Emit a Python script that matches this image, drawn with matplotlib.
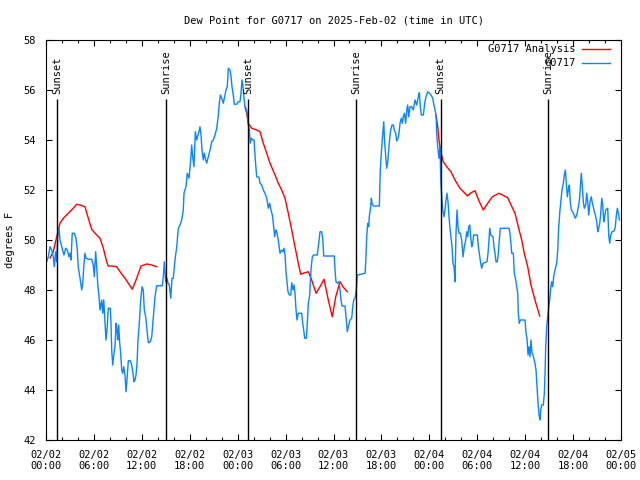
import matplotlib
matplotlib.use("Agg")
import matplotlib.pyplot as plt
import matplotlib.dates as mdates
import numpy as np
import pandas as pd

START = pd.Timestamp("2025-02-02 00:00")

# G0717 observations (hours after 02/02 00:00 UTC, dew point in F)
obs_hours = [
    0.08, 0.29, 0.50, 0.71, 0.91, 1.04, 1.21, 1.34, 1.47, 1.63,
    1.75, 1.97, 2.25, 2.47, 2.67, 2.88, 3.01, 3.13, 3.29, 3.54,
    3.76, 3.92, 4.04, 4.26, 4.47, 4.60, 4.76, 4.88, 5.01, 5.30,
    5.72, 5.92, 6.05, 6.22, 6.35, 6.47, 6.64, 6.76, 6.97, 7.10,
    7.23, 7.39, 7.51, 7.64, 7.80, 8.05, 8.14, 8.23, 8.35, 8.52,
    8.64, 8.77, 8.89, 8.98, 9.10, 9.23, 9.35, 9.48, 9.60, 9.73,
    9.89, 10.02, 10.14, 10.31, 10.56, 10.73, 10.86, 11.02, 11.14, 11.27,
    11.40, 11.52, 11.68, 11.86, 12.02, 12.18, 12.31, 12.48, 12.65, 12.81,
    13.06, 13.24, 13.44, 13.65, 13.86, 14.28, 14.56, 14.69, 14.81, 14.99,
    15.15, 15.28, 15.44, 15.62, 15.78, 15.94, 16.15, 16.37, 16.57, 16.78,
    16.99, 17.19, 17.28, 17.53, 17.69, 17.91, 18.12, 18.24, 18.37, 18.53,
    18.70, 18.87, 19.03, 19.16, 19.28, 19.41, 19.53, 19.70, 19.82, 20.00,
    20.12, 20.32, 20.54, 20.75, 20.95, 21.16, 21.38, 21.58, 21.70, 21.83,
    22.00, 22.20, 22.33, 22.54, 22.70, 22.83, 23.04, 23.17, 23.29, 23.45,
    23.58, 23.88, 24.08, 24.29, 24.42, 24.54, 24.67, 24.79, 24.92, 25.04,
    25.17, 25.30, 25.46, 25.58, 25.71, 25.88, 26.05, 26.21, 26.38, 26.67,
    26.80, 27.01, 27.21, 27.42, 27.64, 27.84, 28.01, 28.17, 28.34, 28.51,
    28.64, 28.76, 28.89, 29.01, 29.14, 29.30, 29.51, 29.68, 29.80, 29.93,
    30.05, 30.18, 30.30, 30.47, 30.64, 30.77, 30.93, 31.06, 31.18, 31.31,
    31.43, 31.59, 32.02, 32.14, 32.27, 32.39, 32.60, 32.72, 32.85, 33.02,
    33.18, 33.35, 33.52, 33.97, 34.15, 34.31, 34.52, 34.65, 34.78, 36.10,
    36.19, 36.31, 36.53, 36.69, 36.82, 36.94, 37.07, 37.44, 37.57, 37.73,
    37.86, 38.07, 38.28, 38.41, 38.53, 38.70, 38.86, 38.98, 39.95, 40.04,
    40.16, 40.28, 40.41, 40.48, 40.66, 40.74, 40.82, 40.99, 41.74, 41.86,
    42.04, 42.20, 42.29, 42.41, 42.54, 42.66, 42.79, 42.91, 43.04, 43.16,
    43.33, 43.49, 43.61, 43.79, 43.92, 44.08, 44.20, 44.33, 44.49, 44.62,
    44.74, 44.87, 45.04, 45.17, 45.29, 45.42, 45.58, 45.79, 45.99, 46.21,
    46.42, 46.62, 46.75, 46.87, 47.00, 47.25, 47.42, 47.58, 47.80, 48.00,
    48.21, 48.42, 48.62, 48.84, 48.92, 49.05, 49.21, 49.34, 49.43, 49.55,
    49.68, 49.84, 49.96, 50.09, 50.21, 50.34, 50.46, 50.59, 50.71, 50.84,
    50.96, 51.09, 51.21, 51.34, 51.47, 51.59, 51.72, 51.88, 52.05, 52.22,
    52.38, 52.56, 52.68, 52.81, 52.93, 53.06, 53.18, 53.31, 53.43, 53.56,
    54.01, 54.14, 54.31, 54.43, 54.56, 54.72, 55.22, 55.35, 55.47, 55.56,
    55.69, 55.97, 56.10, 56.22, 56.35, 56.51, 56.64, 56.76, 56.89, 57.98,
    58.10, 58.32, 58.52, 58.64, 58.82, 58.94, 59.07, 59.14, 59.27, 59.39,
    59.98, 60.11, 60.23, 60.36, 60.48, 60.61, 60.73, 60.86, 60.98, 61.23,
    61.36, 61.48, 61.61, 61.74, 61.86, 61.95, 62.07, 62.27, 62.40, 62.49,
    62.57, 62.70, 62.82, 62.95, 63.07, 63.20, 63.32, 63.45, 63.57, 63.74,
    63.95, 64.08, 64.20, 64.36, 64.49, 64.61, 64.78, 64.90, 65.03, 65.15,
    65.28, 65.40, 65.53, 65.65, 65.78, 65.96, 66.12, 66.28, 66.46, 66.58,
    66.71, 66.83, 66.96, 67.03, 67.16, 67.28, 67.41, 67.58, 67.71, 67.83,
    67.96, 68.12, 68.28, 68.41, 68.53, 68.66, 68.79, 68.96, 69.09, 69.21,
    69.34, 69.46, 69.59, 69.71, 69.84, 69.96, 70.09, 70.34, 70.46, 70.59,
    70.71, 70.88, 71.13, 71.29, 71.42, 71.55, 71.67, 71.80,
]
obs_dewpt = [
    49.13, 49.33, 49.73, 49.60, 49.33, 48.93, 49.53, 49.13, 50.13, 50.47,
    50.00, 49.73, 49.40, 49.67, 49.60, 49.33, 49.47, 49.20, 50.27, 50.27,
    50.07, 49.60, 48.93, 48.47, 48.00, 48.27, 49.07, 49.47, 49.27, 49.23,
    49.23, 49.00, 48.53, 49.53, 48.93, 48.27, 47.73, 47.20, 47.60, 47.07,
    47.60, 46.67, 46.00, 46.40, 47.27, 47.27, 46.67, 45.60, 45.00, 45.47,
    45.73, 46.67, 46.40, 46.00, 46.60, 45.87, 45.47, 44.80, 44.67, 44.93,
    44.60, 43.93, 44.40, 45.17, 45.17, 45.00, 44.73, 44.33, 44.40, 44.60,
    45.07, 46.00, 46.67, 47.60, 48.13, 48.00, 47.20, 46.93, 46.40, 45.89,
    45.93, 46.13, 46.93, 47.73, 48.17, 48.17, 48.17, 48.53, 49.13, 48.33,
    48.47, 48.27, 48.20, 47.67, 48.47, 48.47, 49.20, 49.73, 50.47, 50.60,
    50.80, 51.20, 51.87, 52.13, 52.67, 52.47, 53.20, 53.80, 53.33, 52.93,
    54.33, 54.00, 54.20, 54.33, 54.53, 54.20, 53.60, 53.20, 53.47, 53.20,
    53.07, 53.33, 53.60, 53.93, 54.00, 54.20, 54.47, 55.00, 55.47, 55.80,
    55.67, 55.47, 55.67, 56.00, 56.13, 56.87, 56.80, 56.53, 56.13, 55.80,
    55.43, 55.43, 55.53, 55.53, 55.87, 56.40, 56.13, 55.67, 55.33, 55.27,
    55.13, 54.67, 54.40, 53.87, 54.07, 54.00, 54.00, 53.20, 52.53, 52.51,
    52.27, 52.20, 52.00, 51.87, 51.67, 51.27, 51.47, 51.20, 51.00, 50.53,
    50.13, 50.40, 50.33, 50.13, 49.87, 49.47, 49.60, 49.53, 49.67, 49.40,
    48.73, 48.33, 47.93, 47.80, 47.80, 48.29, 48.00, 48.20, 47.87, 47.20,
    46.80, 47.07, 47.07, 46.67, 46.40, 46.07, 46.07, 46.67, 47.47, 47.80,
    48.80, 49.33, 49.40, 49.40, 49.87, 50.33, 50.33, 50.07, 49.36, 49.36,
    48.80, 48.33, 48.27, 48.33, 48.00, 47.60, 47.36, 47.36, 46.93, 46.33,
    46.53, 46.80, 46.87, 47.33, 47.60, 47.67, 48.03, 48.60, 48.67, 49.13,
    50.13, 50.67, 50.53, 50.93, 51.33, 51.67, 51.47, 51.36, 51.36, 52.80,
    53.73, 54.40, 54.73, 53.87, 53.33, 52.87, 53.13, 53.60, 54.07, 54.40,
    54.60, 54.60, 54.40, 54.27, 53.96, 54.07, 54.27, 54.67, 54.87, 54.67,
    54.93, 55.07, 54.67, 55.20, 55.40, 54.93, 55.33, 55.33, 55.20, 55.60,
    55.40, 55.73, 55.89, 55.33, 55.00, 55.00, 55.47, 55.73, 55.93, 55.87,
    55.80, 55.67, 55.33, 55.00, 54.27, 53.73, 53.27, 53.73, 52.40, 51.73,
    51.20, 50.93, 51.20, 51.60, 51.87, 51.53, 50.93, 50.47, 50.13, 49.73,
    49.07, 48.93, 48.33, 50.27, 51.20, 50.53, 50.27, 50.27, 50.00, 49.33,
    49.73, 50.00, 50.33, 50.13, 50.53, 50.60, 50.13, 49.73, 49.87, 50.20,
    50.20, 49.73, 49.33, 49.07, 48.87, 49.07, 49.13, 49.47, 50.00, 50.47,
    50.20, 50.13, 49.73, 49.47, 49.13, 49.13, 49.47, 50.00, 50.47, 50.47,
    50.27, 49.47, 49.47, 48.67, 48.40, 48.13, 47.87, 47.07, 46.67, 46.80,
    46.80, 46.27, 46.07, 45.40, 45.73, 45.33, 46.00, 45.47, 45.40, 45.07,
    44.80, 44.13, 43.47, 43.00, 42.80, 43.20, 43.40, 43.40, 43.87, 44.67,
    45.73, 46.53, 46.93, 47.33, 47.60, 48.07, 48.33, 48.13, 48.53, 48.80,
    49.07, 49.60, 50.53, 51.20, 51.60, 52.00, 52.27, 52.60, 52.80, 52.27,
    51.73, 52.00, 52.20, 51.53, 51.20, 51.13, 51.00, 50.87, 51.00, 51.20,
    51.40, 51.73, 52.33, 52.67, 52.13, 51.53, 51.27, 51.40, 51.87, 51.53,
    51.00, 51.53, 51.73, 51.47, 51.33, 51.13, 51.00, 50.73, 50.33, 50.47,
    50.67, 51.07, 51.67, 51.40, 50.73, 50.93, 51.20, 51.27, 50.20, 49.87,
    50.20, 50.33, 50.36, 50.53, 51.00, 51.27, 51.07, 50.80,
]

# G0717 Analysis, three separate runs
ana1_hours = [0.50, 0.91, 1.34, 1.75, 2.17, 2.79, 3.42, 3.84, 4.26, 4.88,
              5.30, 5.72, 6.14, 6.76, 7.18, 7.60, 7.80, 8.23, 8.85, 9.27,
              9.89, 10.81, 11.36, 11.90, 12.61, 13.24, 13.86]
ana1_dewpt = [49.28, 49.53, 50.13, 50.67, 50.87, 51.07, 51.27, 51.43, 51.40, 51.33,
              50.87, 50.43, 50.27, 50.07, 49.67, 49.13, 48.96, 48.96, 48.93, 48.73,
              48.47, 48.03, 48.47, 48.96, 49.04, 49.00, 48.93]
ana2_hours = [24.92, 25.13, 25.33, 25.76, 26.38, 26.80, 27.21, 27.64, 28.05, 28.68,
              29.09, 29.51, 29.93, 30.34, 30.77, 31.18, 31.59, 31.89, 32.43, 32.85,
              33.27, 33.81, 34.31, 34.81, 35.35, 35.85, 36.28, 36.82, 37.23, 37.73]
ana2_dewpt = [55.33, 55.07, 54.67, 54.47, 54.40, 54.33, 53.87, 53.47, 53.07, 52.60,
              52.27, 52.00, 51.67, 51.07, 50.40, 49.73, 49.07, 48.63, 48.69, 48.73,
              48.40, 47.87, 48.13, 48.43, 47.60, 46.93, 47.73, 48.33, 48.11, 47.93]
ana3_hours = [48.84, 49.05, 49.21, 49.43, 49.75, 50.18, 50.71, 51.21, 51.84, 52.46,
              52.76, 53.22, 53.72, 54.26, 54.76, 55.31, 55.89, 56.73, 57.39, 57.82,
              58.23, 58.73, 59.14, 59.57, 59.89, 60.32, 60.73, 61.23, 61.82]
ana3_dewpt = [55.00, 54.53, 54.00, 53.53, 53.13, 52.93, 52.73, 52.40, 52.07, 51.87,
              51.76, 51.89, 51.97, 51.53, 51.20, 51.47, 51.73, 51.87, 51.76, 51.69,
              51.40, 51.07, 50.53, 50.00, 49.47, 48.93, 48.20, 47.60, 46.96]

# sun events (hours after start)
sun_hours = [1.35, 15.0, 25.33, 38.87, 49.4, 62.9]
sun_labels = ["Sunset", "Sunrise", "Sunset", "Sunrise", "Sunset", "Sunrise"]


def to_time(hours):
    return START + pd.to_timedelta(np.array(hours), unit="h")


plt.rcParams['font.family'] = ['DejaVu Sans Mono']
FS = 7.5

fig = plt.figure(figsize=(6.4, 4.8), dpi=100)
ax = fig.add_axes([46 / 640, 40 / 480, 575 / 640, 400 / 480])

ax.plot(to_time(ana1_hours), ana1_dewpt, color='#ff0000', lw=1.0, label='G0717 Analysis')
ax.plot(to_time(ana2_hours), ana2_dewpt, color='#ff0000', lw=1.0)
ax.plot(to_time(ana3_hours), ana3_dewpt, color='#ff0000', lw=1.0)
ax.plot(to_time(obs_hours), obs_dewpt, color='#0a84ff', lw=1.0, label='G0717')

# sunrise / sunset markers
for h, lab in zip(sun_hours, sun_labels):
    t = to_time([h])[0]
    ax.vlines(t, 42, 55.64, color='black', lw=1.0)
    ax.text(t, 55.85, lab, rotation=90, ha='center', va='bottom', fontsize=FS)

ax.set_xlim(START, START + pd.Timedelta(hours=72))
ax.set_ylim(42, 58)
ax.set_yticks(np.arange(42, 59, 2))
ax.xaxis.set_major_locator(mdates.HourLocator(byhour=range(0, 24, 6)))
ax.xaxis.set_minor_locator(mdates.HourLocator(byhour=range(0, 24, 2)))
ax.xaxis.set_major_formatter(mdates.DateFormatter('%m/%d\n%H:%M'))

ax.tick_params(which='both', direction='in', top=True, right=True,
               labelsize=FS, width=0.8)
ax.tick_params(which='major', length=4, pad=7)
ax.tick_params(which='minor', length=2)
for s in ax.spines.values():
    s.set_linewidth(0.8)

ax.set_ylabel('degrees F', fontsize=FS, labelpad=6)
ax.set_title('Dew Point for G0717 on 2025-Feb-02 (time in UTC)', fontsize=FS, pad=12)

ax.legend(loc='upper right', bbox_to_anchor=(1 - 5 / 575, 1 + 2 / 400),
          frameon=False, markerfirst=False, fontsize=FS,
          handlelength=2.7, handletextpad=0.6, borderaxespad=0.2,
          labelspacing=0.4)

fig.savefig('out.png', dpi=100)
